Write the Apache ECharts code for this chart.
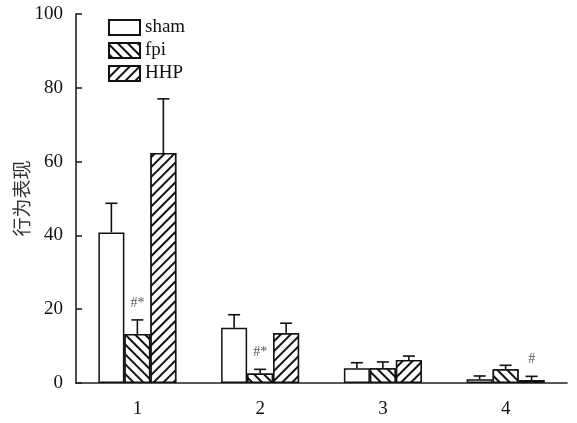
<!DOCTYPE html>
<html>
<head>
<meta charset="utf-8">
<script src="https://cdn.jsdelivr.net/npm/echarts@6/dist/echarts.min.js"></script>
<style>
  html, body { margin: 0; padding: 0; background: #fff; }
  #chart { width: 577px; height: 423px; }
</style>
</head>
<body>
<div id="chart"></div>
<script>
// Time points on the x axis
const categories = ['1', '2', '3', '4'];
const seriesNames = ['sham', 'fpi', 'HHP'];

// Group means
const shamMean = [40.8, 15.0, 4.0, 1.0];
const fpiMean = [13.3, 2.6, 4.0, 3.7];
const hhpMean = [62.3, 13.5, 6.2, 0.8];

// Upper error (SD)
const shamErr = [7.9, 3.5, 1.5, 0.9];
const fpiErr = [3.8, 1.1, 1.7, 1.1];
const hhpErr = [14.7, 2.7, 1.1, 1.0];

// Significance markers
const fpiMarks = ['#*', '#*', '', ''];
const hhpMarks = ['', '', '', '#'];
const shamMarks = ['', '', '', ''];

const yTicks = [0, 20, 40, 60, 80, 100];

const FONT = '"Liberation Serif", "Times New Roman", serif';
const BAR_W = 26;

// "\\\" hatch for fpi, "///" hatch for HHP
const hatchDown = {
  symbol: 'rect', color: '#111', backgroundColor: '#fff',
  dashArrayX: [1, 0], dashArrayY: [1.4, 4.2], rotation: Math.PI / 4, symbolSize: 1
};
const hatchUp = {
  symbol: 'rect', color: '#111', backgroundColor: '#fff',
  dashArrayX: [1, 0], dashArrayY: [1.4, 4.2], rotation: -Math.PI / 4, symbolSize: 1
};

const groups = [
  { name: seriesNames[0], mean: shamMean, err: shamErr, marks: shamMarks, decal: null },
  { name: seriesNames[1], mean: fpiMean, err: fpiErr, marks: fpiMarks, decal: hatchDown },
  { name: seriesNames[2], mean: hhpMean, err: hhpErr, marks: hhpMarks, decal: hatchUp }
];

const barSeries = groups.map(g => ({
  name: g.name,
  type: 'bar',
  barWidth: BAR_W,
  barGap: '0%',
  data: g.mean,
  itemStyle: {
    color: '#fff',
    borderColor: '#111',
    borderWidth: 1.5,
    decal: g.decal || undefined
  },
  emphasis: { disabled: true },
  z: 2
}));

// Error bars with a cap, plus the significance text above them
const errSeries = groups.map((g, si) => ({
  type: 'custom',
  name: g.name + '-err',
  z: 5,
  silent: true,
  data: g.mean.map((m, i) => [i, m, m + g.err[i], g.marks[i]]),
  renderItem: function (params, api) {
    const off = (si - 1) * BAR_W;
    const base = api.coord([api.value(0), api.value(1)]);
    const top = api.coord([api.value(0), api.value(2)]);
    const x = base[0] + off;
    const cap = 6;
    const children = [
      { type: 'line', shape: { x1: x, y1: base[1], x2: x, y2: top[1] },
        style: { stroke: '#111', lineWidth: 1.6 } },
      { type: 'line', shape: { x1: x - cap, y1: top[1], x2: x + cap, y2: top[1] },
        style: { stroke: '#111', lineWidth: 1.6 } }
    ];
    const mark = g.marks[params.dataIndex];
    if (mark) {
      children.push({
        type: 'text',
        style: {
          x: x, y: top[1] - 10, text: mark,
          font: '14px ' + FONT, fill: '#555',
          align: 'center', verticalAlign: 'bottom'
        }
      });
    }
    return { type: 'group', children: children };
  }
}));

const chart = echarts.init(document.getElementById('chart'), null, { renderer: 'canvas' });
chart.setOption({
  animation: false,
  backgroundColor: '#fff',
  grid: { left: 76, right: 10, top: 14, bottom: 40, containLabel: false, outerBoundsMode: 'none' },
  legend: {
    data: seriesNames.map(n => ({ name: n, icon: 'rect' })),
    orient: 'vertical',
    left: 108,
    top: 18,
    padding: 0,
    itemWidth: 31,
    itemHeight: 15,
    itemGap: 4,
    textStyle: { fontFamily: FONT, fontSize: 19, color: '#111', padding: [0, 0, 0, 0] },
    selectedMode: false
  },
  xAxis: {
    type: 'category',
    data: categories,
    axisLine: { lineStyle: { color: '#222', width: 1.6 } },
    axisTick: { show: false },
    axisLabel: { fontFamily: FONT, fontSize: 19, color: '#111', margin: 17 }
  },
  yAxis: {
    type: 'value',
    min: yTicks[0],
    max: yTicks[yTicks.length - 1],
    interval: 20,
    name: '行为表现',
    nameLocation: 'middle',
    nameGap: 45,
    nameMoveOverlap: false,
    nameRotate: 90,
    nameTextStyle: { fontFamily: '"Noto Sans CJK SC", sans-serif', fontSize: 19, color: '#333' },
    splitLine: { show: false },
    axisLine: { show: true, lineStyle: { color: '#222', width: 1.6 } },
    axisTick: { show: true, inside: true, length: 6, lineStyle: { color: '#222', width: 1.6 } },
    axisLabel: { fontFamily: FONT, fontSize: 19, color: '#111', margin: 13 }
  },
  series: barSeries.concat(errSeries)
});
</script>
</body>
</html>
